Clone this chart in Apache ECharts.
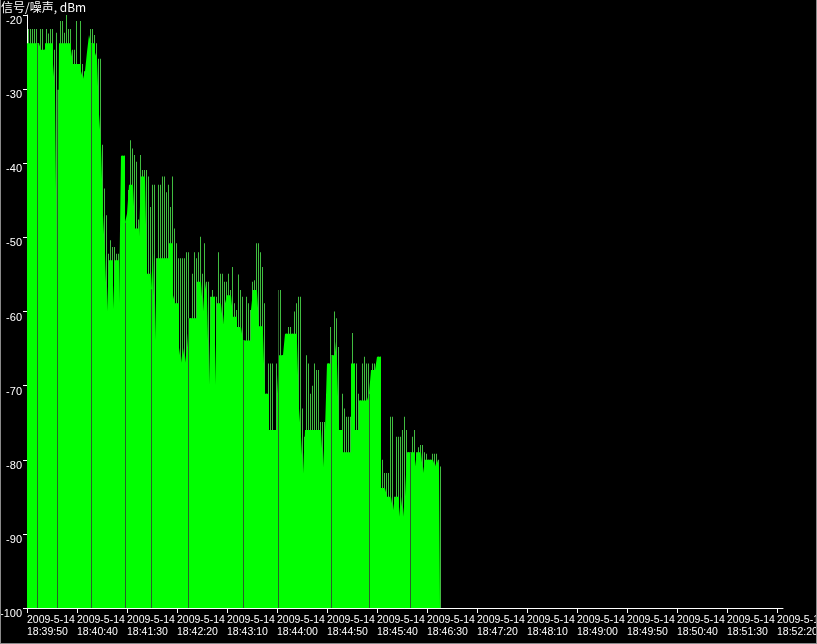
<!DOCTYPE html>
<html>
<head>
<meta charset="utf-8">
<script src="https://cdn.jsdelivr.net/npm/echarts@6/dist/echarts.min.js"></script>
<style>
html,body{margin:0;padding:0;background:#000;}
#wrap{position:relative;width:817px;height:644px;}
#chart{position:absolute;left:0;top:0;width:817px;height:644px;}
#frame{position:absolute;left:0;top:0;width:815px;height:643px;border-left:1px solid #8a8a8a;border-right:1px solid #8a8a8a;border-bottom:1px solid #8a8a8a;pointer-events:none;}
</style>
</head>
<body>
<div id="wrap"><div id="chart"></div><div id="frame"></div></div>
<script>
// ---- data ----
const chartTitle = '信号/噪声, dBm';
const dateLabel = '2009-5-14';
const startClock = [18, 39, 50];      // time at x = 0
const sampleStep = 2;                 // seconds between samples
const axisSpan = 756;                 // seconds shown on the time axis
const tickStep = 50;                  // seconds between time ticks
const yTicks = [-100, -90, -80, -70, -60, -50, -40, -30, -20];

// bright green fill level per sample (dBm)
const baseLevel = [
  -23.8,-23.8,-23.8,-23.8,-23.8,-23.8,-23.8,-24.7,-24.7,-23.8,
  -23.8,-23.8,-23.8,-26.6,-30.1,-57,-23.8,-23.8,-23.8,-23.8,
  -23.8,-23.8,-24.7,-26.6,-26.6,-26.6,-26.6,-27.6,-28.6,-27.6,
  -25,-22.7,-23.8,-23.8,-25.1,-25.9,-33.4,-37.5,-47,-52.2,
  -60,-53.1,-53.1,-59.7,-53.1,-53.1,-58.9,-39,-39,-48,
  -46.8,-42.9,-42.9,-42.9,-48.8,-48.8,-49.9,-41.8,-41.8,-41.8,
  -54.9,-54.9,-57,-52,-63.9,-52.8,-52.8,-52.8,-52.8,-52.8,
  -52.8,-50.8,-50.8,-57.8,-58.9,-58.9,-64.9,-66.9,-64.9,-66.9,
  -64.9,-60.9,-60.9,-60.9,-60.9,-56,-56,-56,-60,-56,
  -58,-69.9,-58,-58,-69.9,-58.9,-58.9,-58.9,-61.8,-58.9,
  -57.8,-57.8,-58,-60.7,-60.7,-62.1,-62.1,-62.1,-63.9,-63.9,
  -63.9,-63.9,-59.8,-57.1,-57.1,-57.1,-62,-62,-63,-71.1,
  -71.1,-76,-76,-76,-76,-71.1,-65.9,-65.9,-65.9,-63,
  -63,-63,-63,-63,-63,-64.1,-73.1,-76.9,-81.9,-76,
  -76,-76,-76,-76,-76,-76,-76,-76,-81,-76,
  -67,-67,-65.9,-65.9,-64,-67,-76,-76,-79,-79,
  -79,-79,-67,-67,-76,-76,-72,-72,-72,-72,
  -72,-71.1,-67.9,-67.9,-67.9,-66.1,-66.1,-83.8,-83.8,-83.8,
  -85,-85,-85,-86.8,-85,-85,-87.7,-85,-87.7,-85,
  -79,-79,-79,-79,-80.9,-79,-79,-79,-81.8,-80,
  -80,-80,-80,-80,-80.9,-80,-80.9
];

// peak level per sample (dBm), drawn as thin darker spikes
const peakLevel = [
  -21.9,-21.9,-21.9,-21.9,-21.9,-23.8,-21.9,-21.9,-24.7,-21.9,
  -22.5,-21.9,-21.9,-24.7,-22.4,-30.1,-20.8,-20.8,-22.4,-19.8,
  -21.9,-21.9,-24.7,-24.7,-20.8,-26.6,-20.8,-26.6,-27.6,-27.6,
  -25,-21.9,-21.9,-22.7,-23.8,-25.9,-25.9,-37.5,-43.4,-47,
  -52.2,-50.4,-51.3,-51.3,-52.2,-52.2,-49.6,-39,-39,-48,
  -43.6,-36.9,-38,-38.9,-39.8,-47.6,-38.9,-40.9,-40.9,-40.9,
  -41.8,-45.9,-42.9,-42.9,-52.8,-42.9,-42.9,-41.8,-41.8,-43.9,
  -42.9,-45.9,-41.8,-48.8,-50.8,-52.8,-52.8,-52.8,-52.8,-52,
  -52,-60.9,-54.9,-52,-52.8,-52,-49.9,-54.9,-50.8,-56,
  -56,-58,-57.1,-58,-58,-52,-54.9,-54.9,-56,-56,
  -54.9,-57.1,-54,-58.9,-59.8,-55,-57.1,-58,-63.9,-58,
  -58.9,-59.8,-56,-55.8,-50.8,-50.8,-52,-54,-58.9,-71.1,
  -67,-67,-67,-76,-67,-67,-57.1,-65.9,-65.9,-63,
  -62.1,-62.1,-63,-60,-58.9,-58,-58,-73.1,-76.9,-65.9,
  -67,-71.1,-70,-67,-67.9,-67.9,-74.9,-74.9,-74.9,-71.1,
  -67,-62.1,-65.9,-60,-60.9,-64.8,-76,-71.1,-73.1,-74.2,
  -74.2,-74.2,-62.9,-67,-67,-71.1,-72,-67,-66.1,-67,
  -67,-71.1,-67,-67,-67.9,-66.1,-66.1,-80,-81.8,-81.8,
  -81.8,-74.2,-74.2,-85,-76.9,-76.9,-76.9,-76,-74.2,-76,
  -79,-79,-76.9,-76,-79,-78.3,-78,-78,-79,-79.2,
  -80,-80,-79.2,-79.2,-79.2,-80,-80.9
];

// full-height dark separator lines (seconds from start, top level dBm)
const gapTimes  = [10, 30, 64, 98, 124, 161, 216, 251, 304, 342, 383];
const gapLevels = [-23.8, -30.1, -23.8, -48, -57, -60.9, -63.9, -57.1, -65.9, -71.1, -79];

// ---- build ----
const FLOOR = -100;
const pad = n => (n < 10 ? '0' : '') + n;
function clockAt(sec) {
  let s = startClock[0] * 3600 + startClock[1] * 60 + startClock[2] + sec;
  const h = Math.floor(s / 3600); s -= h * 3600;
  const m = Math.floor(s / 60); s -= m * 60;
  return h + ':' + pad(m) + ':' + pad(s);
}
const fillData = baseLevel.map((v, i) => [i * sampleStep, v - FLOOR]);
fillData.push([baseLevel.length * sampleStep - 1, baseLevel[baseLevel.length - 1] - FLOOR]);
const spikeData = peakLevel.map((v, i) => [i * sampleStep + 1.5, v - FLOOR]);
const gapData = gapTimes.map((t, i) => [t + 0.5, gapLevels[i] - FLOOR]);
const timeTicks = [];
for (let v = 0; v <= axisSpan; v += tickStep) timeTicks.push(v);
const levelTicks = yTicks.map(v => v - FLOOR);

const font = "'Liberation Sans', Arial, sans-serif";
const chart = echarts.init(document.getElementById('chart'), null, {renderer: 'canvas'});
chart.setOption({
  backgroundColor: '#000',
  animation: false,
  graphic: [{
    type: 'text', left: 1, top: 1,
    style: {text: chartTitle, fill: '#fff', font: "12px 'Noto Sans CJK SC', sans-serif"}
  }],
  grid: {left: 27, top: 15, width: axisSpan, height: 593, containLabel: false, outerBoundsMode: 'none'},
  xAxis: {
    type: 'value', min: 0, max: axisSpan,
    axisLine: {show: true, lineStyle: {color: '#fff', width: 1}},
    axisTick: {show: true, length: 5, customValues: timeTicks, lineStyle: {color: '#fff'}},
    splitLine: {show: false},
    axisLabel: {
      color: '#fff', fontFamily: font, fontSize: 10.5, lineHeight: 12,
      align: 'left', margin: 6, hideOverlap: false, customValues: timeTicks,
      formatter: v => dateLabel + '\n' + clockAt(v)
    }
  },
  yAxis: {
    type: 'value', min: 0, max: levelTicks[levelTicks.length - 1],
    axisLine: {show: true, lineStyle: {color: '#fff', width: 1}},
    axisTick: {show: true, length: 4, customValues: levelTicks, lineStyle: {color: '#fff'}},
    splitLine: {show: false},
    axisLabel: {
      color: '#fff', fontFamily: font, fontSize: 11, lineHeight: 12,
      verticalAlign: 'top', margin: 5, hideOverlap: false, customValues: levelTicks,
      formatter: v => String(v + FLOOR)
    }
  },
  series: [
    {
      name: 'peak', type: 'bar', data: spikeData, barWidth: 1, barGap: '-100%',
      itemStyle: {color: '#40bc40'}, z: 1, silent: true
    },
    {
      name: 'level', type: 'line', data: fillData, step: 'end', symbol: 'none',
      lineStyle: {width: 0}, areaStyle: {color: '#00ff00', opacity: 1}, z: 2, silent: true
    },
    {
      name: 'gap', type: 'bar', data: gapData, barWidth: 1, barGap: '-100%',
      itemStyle: {color: '#2a5e2a'}, z: 3, silent: true
    }
  ]
});
</script>
</body>
</html>
